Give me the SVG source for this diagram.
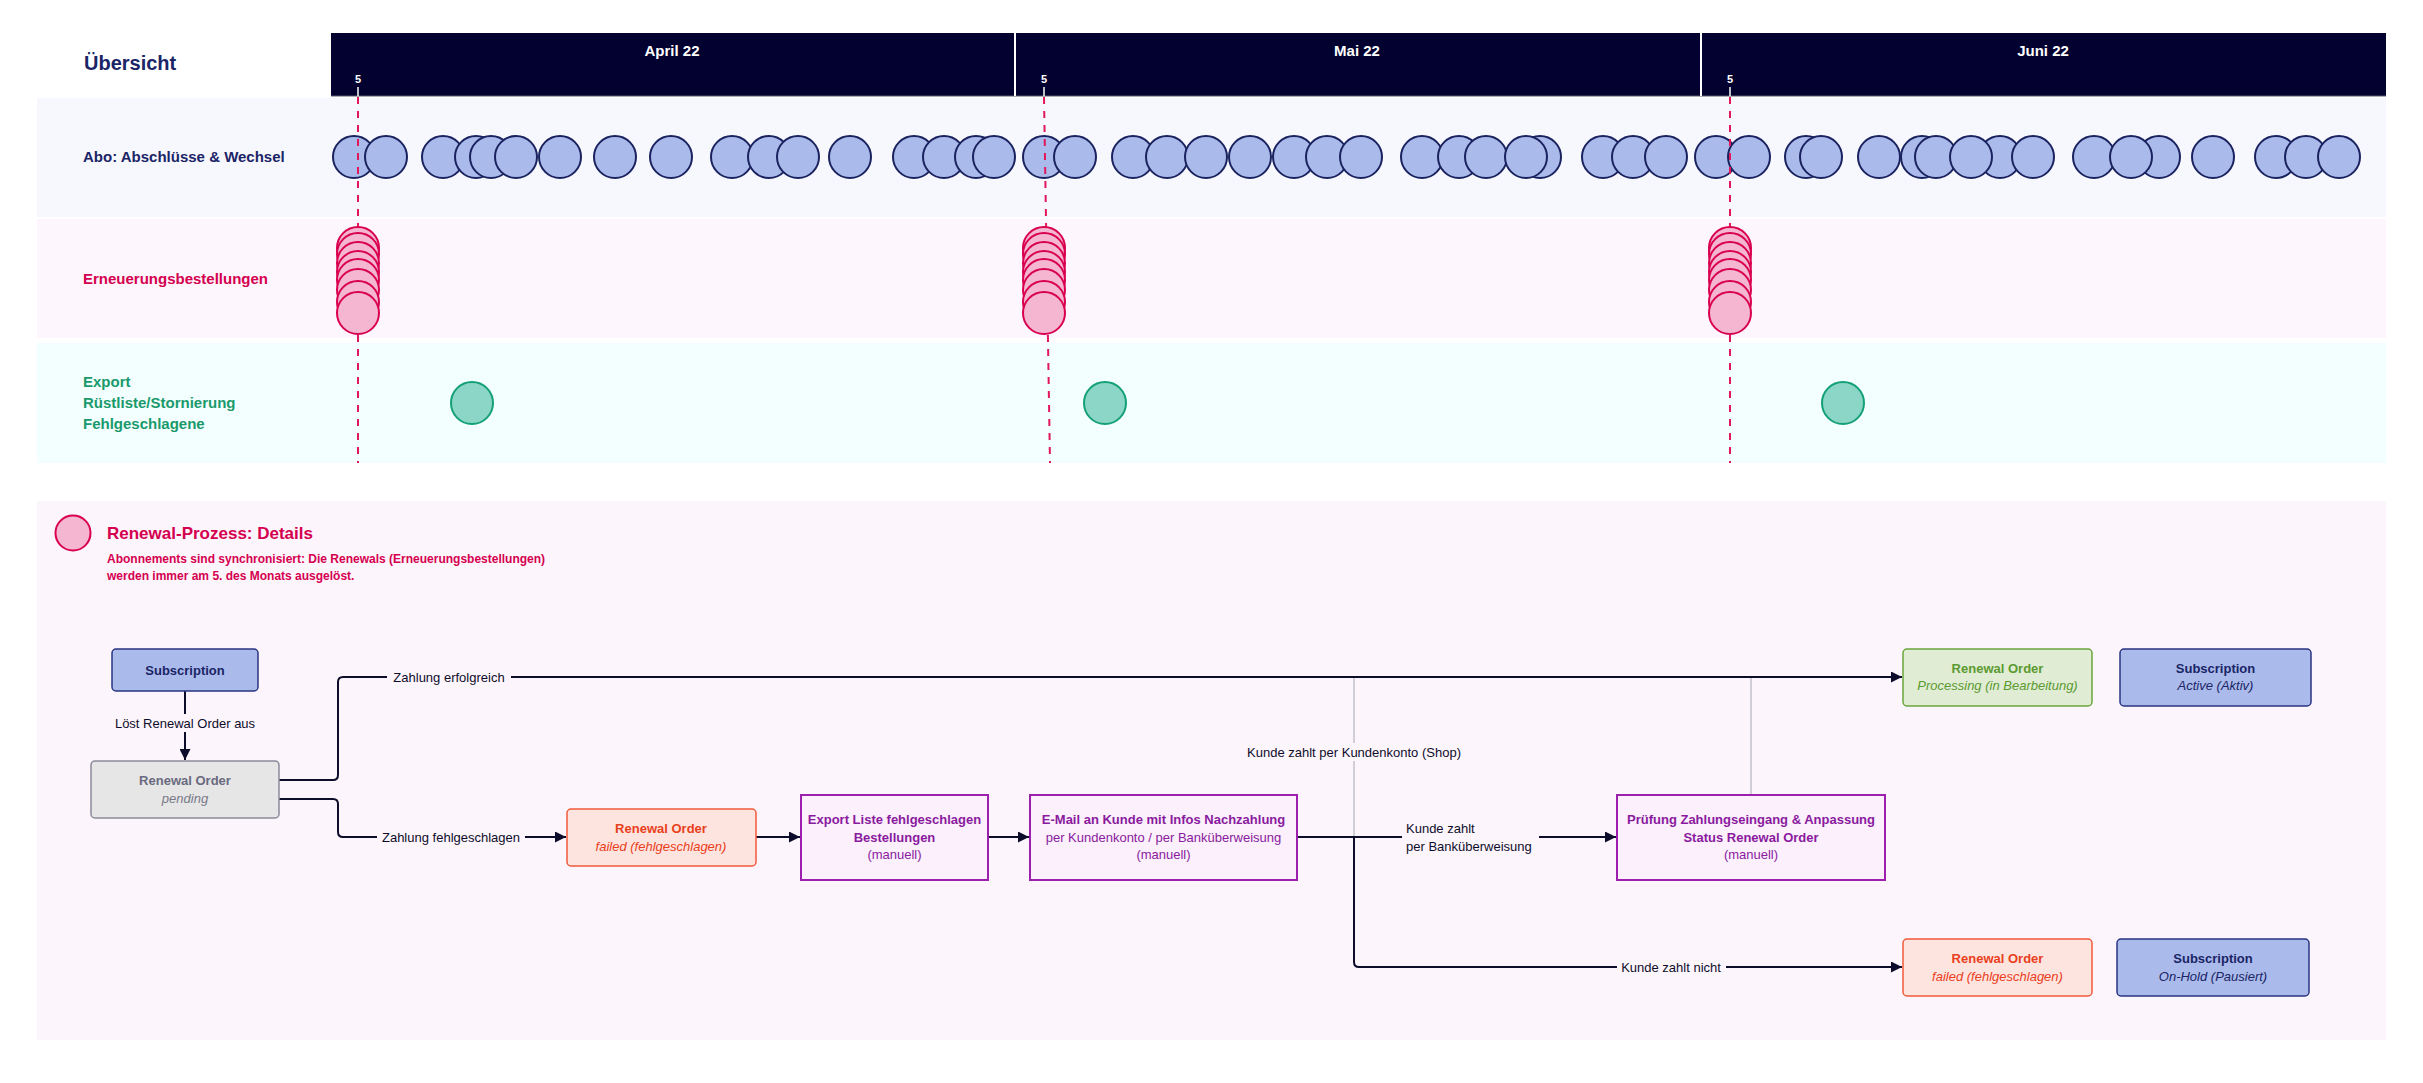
<svg xmlns="http://www.w3.org/2000/svg" width="2423" height="1083" viewBox="0 0 2423 1083">
<defs>
<style>
text{font-family:"Liberation Sans",Arial,sans-serif}
.b{font-weight:bold}
.i{font-style:italic}
.abo{fill:#aabbeb;stroke:#1a225f;stroke-width:2}
.ren{fill:#f4b6d1;stroke:#d9004f;stroke-width:2}
.exp{fill:#8bd6c6;stroke:#14a077;stroke-width:2}
.dash{stroke:#e0185a;stroke-width:2;stroke-dasharray:7 7;fill:none}
.hdr{fill:#ffffff;font-weight:bold;font-size:15px;text-anchor:middle}
.conn{fill:none;stroke:#0d0d2b;stroke-width:2}
.gray{fill:none;stroke:#b4b4be;stroke-width:1.2}
.lbl{font-size:13px;fill:#0d0d2b}
.lbg{fill:#fdf5fc}
.c{text-anchor:middle}
.t13{font-size:13px}
.navy{fill:#1b2466}
.purple{fill:#8a1a9e}
</style>
<marker id="ah" viewBox="0 0 10 10" refX="10" refY="5" markerWidth="11" markerHeight="11" markerUnits="userSpaceOnUse" orient="auto">
<path d="M0 0 L10 5 L0 10 Z" fill="#0d0d2b"/>
</marker>
</defs>
<rect width="2423" height="1083" fill="#ffffff"/>

<g id="header">
<rect x="331" y="33" width="2055" height="63" fill="#03012f"/>
<line x1="331" y1="96" x2="2386" y2="96" stroke="#5a5a70" stroke-width="1"/>
<line x1="1015" y1="33" x2="1015" y2="96" stroke="#ffffff" stroke-width="2"/>
<line x1="1701" y1="33" x2="1701" y2="96" stroke="#ffffff" stroke-width="2"/>
<text class="hdr" x="672" y="56">April 22</text>
<text class="hdr" x="1357" y="56">Mai 22</text>
<text class="hdr" x="2043" y="56">Juni 22</text>
<text x="358" y="83" fill="#fff" font-size="11" font-weight="bold" text-anchor="middle">5</text>
<text x="1044" y="83" fill="#fff" font-size="11" font-weight="bold" text-anchor="middle">5</text>
<text x="1730" y="83" fill="#fff" font-size="11" font-weight="bold" text-anchor="middle">5</text>
<line x1="358" y1="87" x2="358" y2="96" stroke="#fff" stroke-width="1.5"/>
<line x1="1044" y1="87" x2="1044" y2="96" stroke="#fff" stroke-width="1.5"/>
<line x1="1730" y1="87" x2="1730" y2="96" stroke="#fff" stroke-width="1.5"/>
<text x="84" y="70" class="b navy" font-size="20">Übersicht</text>
</g>

<g id="lanes">
<rect x="37" y="98" width="2349" height="119" fill="#f7f8fe"/>
<rect x="37" y="219" width="2349" height="119" fill="#fdf6fc"/>
<rect x="37" y="343" width="2349" height="120" fill="#f3fefe"/>
<text x="83" y="162" class="b navy" font-size="15">Abo: Abschlüsse &amp; Wechsel</text>
<text x="83" y="284" class="b" font-size="15" fill="#d4004f">Erneuerungsbestellungen</text>
<text class="b" font-size="15" fill="#1a9a6c"><tspan x="83" y="387">Export</tspan><tspan x="83" y="408">Rüstliste/Stornierung</tspan><tspan x="83" y="429">Fehlgeschlagene</tspan></text>
</g>

<g id="abo-circles">
<circle class="abo" cx="354" cy="157" r="21"/><circle class="abo" cx="386" cy="157" r="21"/>
<circle class="abo" cx="443" cy="157" r="21"/><circle class="abo" cx="476" cy="157" r="21"/>
<circle class="abo" cx="491" cy="157" r="21"/><circle class="abo" cx="516" cy="157" r="21"/>
<circle class="abo" cx="560" cy="157" r="21"/><circle class="abo" cx="615" cy="157" r="21"/>
<circle class="abo" cx="671" cy="157" r="21"/><circle class="abo" cx="732" cy="157" r="21"/>
<circle class="abo" cx="769" cy="157" r="21"/><circle class="abo" cx="798" cy="157" r="21"/>
<circle class="abo" cx="850" cy="157" r="21"/><circle class="abo" cx="914" cy="157" r="21"/>
<circle class="abo" cx="944" cy="157" r="21"/><circle class="abo" cx="976" cy="157" r="21"/>
<circle class="abo" cx="994" cy="157" r="21"/><circle class="abo" cx="1044" cy="157" r="21"/>
<circle class="abo" cx="1075" cy="157" r="21"/><circle class="abo" cx="1133" cy="157" r="21"/>
<circle class="abo" cx="1167" cy="157" r="21"/><circle class="abo" cx="1206" cy="157" r="21"/>
<circle class="abo" cx="1250" cy="157" r="21"/><circle class="abo" cx="1294" cy="157" r="21"/>
<circle class="abo" cx="1327" cy="157" r="21"/><circle class="abo" cx="1361" cy="157" r="21"/>
<circle class="abo" cx="1422" cy="157" r="21"/><circle class="abo" cx="1459" cy="157" r="21"/>
<circle class="abo" cx="1486" cy="157" r="21"/><circle class="abo" cx="1540" cy="157" r="21"/>
<circle class="abo" cx="1526" cy="157" r="21"/><circle class="abo" cx="1603" cy="157" r="21"/>
<circle class="abo" cx="1633" cy="157" r="21"/><circle class="abo" cx="1666" cy="157" r="21"/>
<circle class="abo" cx="1716" cy="157" r="21"/><circle class="abo" cx="1749" cy="157" r="21"/>
<circle class="abo" cx="1806" cy="157" r="21"/><circle class="abo" cx="1821" cy="157" r="21"/>
<circle class="abo" cx="1879" cy="157" r="21"/><circle class="abo" cx="1922" cy="157" r="21"/>
<circle class="abo" cx="1936" cy="157" r="21"/><circle class="abo" cx="2000" cy="157" r="21"/>
<circle class="abo" cx="1971" cy="157" r="21"/><circle class="abo" cx="2033" cy="157" r="21"/>
<circle class="abo" cx="2094" cy="157" r="21"/><circle class="abo" cx="2159" cy="157" r="21"/>
<circle class="abo" cx="2131" cy="157" r="21"/><circle class="abo" cx="2213" cy="157" r="21"/>
<circle class="abo" cx="2276" cy="157" r="21"/><circle class="abo" cx="2306" cy="157" r="21"/>
<circle class="abo" cx="2339" cy="157" r="21"/>
</g>

<g id="day5-lines">
<line class="dash" x1="358" y1="97" x2="358" y2="463"/>
<line class="dash" x1="1044" y1="97" x2="1050" y2="463"/>
<line class="dash" x1="1730" y1="97" x2="1730" y2="463"/>
</g>

<g id="renewal-stacks">
<circle class="ren" cx="358" cy="248" r="21"/><circle class="ren" cx="358" cy="254" r="21"/><circle class="ren" cx="358" cy="263" r="21"/><circle class="ren" cx="358" cy="272" r="21"/><circle class="ren" cx="358" cy="280" r="21"/><circle class="ren" cx="358" cy="290" r="21"/><circle class="ren" cx="358" cy="302" r="21"/><circle class="ren" cx="358" cy="313" r="21"/>
<circle class="ren" cx="1044" cy="248" r="21"/><circle class="ren" cx="1044" cy="254" r="21"/><circle class="ren" cx="1044" cy="263" r="21"/><circle class="ren" cx="1044" cy="272" r="21"/><circle class="ren" cx="1044" cy="280" r="21"/><circle class="ren" cx="1044" cy="290" r="21"/><circle class="ren" cx="1044" cy="302" r="21"/><circle class="ren" cx="1044" cy="313" r="21"/>
<circle class="ren" cx="1730" cy="248" r="21"/><circle class="ren" cx="1730" cy="254" r="21"/><circle class="ren" cx="1730" cy="263" r="21"/><circle class="ren" cx="1730" cy="272" r="21"/><circle class="ren" cx="1730" cy="280" r="21"/><circle class="ren" cx="1730" cy="290" r="21"/><circle class="ren" cx="1730" cy="302" r="21"/><circle class="ren" cx="1730" cy="313" r="21"/>
</g>

<g id="export-circles">
<circle class="exp" cx="472" cy="403" r="21"/>
<circle class="exp" cx="1105" cy="403" r="21"/>
<circle class="exp" cx="1843" cy="403" r="21"/>
</g>

<g id="details-panel">
<rect x="37" y="501" width="2349" height="539" fill="#fdf5fc"/>
<circle class="ren" cx="73" cy="533" r="17.5"/>
<text x="107" y="539" class="b" font-size="17" fill="#d4004f">Renewal-Prozess: Details</text>
<text class="b" font-size="12" fill="#d4004f"><tspan x="107" y="563">Abonnements sind synchronisiert: Die Renewals (Erneuerungsbestellungen)</tspan><tspan x="107" y="580">werden immer am 5. des Monats ausgelöst.</tspan></text>
</g>

<g id="connectors">
<path class="conn" d="M185 691 V760" marker-end="url(#ah)"/>
<path class="conn" d="M279 780 H333 Q338 780 338 775 V682 Q338 677 343 677 H1902" marker-end="url(#ah)"/>
<path class="conn" d="M279 799 H333 Q338 799 338 804 V832 Q338 837 343 837 H566" marker-end="url(#ah)"/>
<path class="conn" d="M756 837 H800" marker-end="url(#ah)"/>
<path class="conn" d="M988 837 H1029" marker-end="url(#ah)"/>
<path class="conn" d="M1297 837 H1616" marker-end="url(#ah)"/>
<path class="conn" d="M1354 837 V962 Q1354 967 1359 967 H1902" marker-end="url(#ah)"/>
<path class="gray" d="M1354 836 V678"/>
<path class="gray" d="M1751 795 V678"/>
<rect class="lbg" x="112" y="714" width="146" height="18"/>
<text class="lbl c" x="185" y="728">Löst Renewal Order aus</text>
<rect class="lbg" x="387" y="668" width="124" height="18"/>
<text class="lbl c" x="449" y="682">Zahlung erfolgreich</text>
<rect class="lbg" x="377" y="828" width="148" height="18"/>
<text class="lbl c" x="451" y="842">Zahlung fehlgeschlagen</text>
<rect class="lbg" x="1244" y="743" width="220" height="18"/>
<text class="lbl c" x="1354" y="757">Kunde zahlt per Kundenkonto (Shop)</text>
<rect class="lbg" x="1402" y="818" width="137" height="38"/>
<text class="lbl"><tspan x="1406" y="833">Kunde zahlt</tspan><tspan x="1406" y="851">per Banküberweisung</tspan></text>
<rect class="lbg" x="1617" y="958" width="109" height="18"/>
<text class="lbl c" x="1671" y="972">Kunde zahlt nicht</text>
</g>

<g id="node-subscription">
<rect x="112" y="649" width="146" height="42" rx="4" fill="#aabbeb" stroke="#2a3580" stroke-width="1.5"/>
<text class="b c t13 navy" x="185" y="675">Subscription</text>
</g>
<g id="node-pending">
<rect x="91" y="761" width="188" height="57" rx="4" fill="#e6e6e6" stroke="#8a8a98" stroke-width="1.5"/>
<text class="b c t13" x="185" y="785" fill="#6a6a80">Renewal Order</text>
<text class="i c t13" x="185" y="803" fill="#7a7a8a">pending</text>
</g>
<g id="node-failed1">
<rect x="567" y="809" width="189" height="57" rx="4" fill="#fee4df" stroke="#f05a3a" stroke-width="1.5"/>
<text class="b c t13" x="661" y="833" fill="#e8401c">Renewal Order</text>
<text class="i c t13" x="661" y="851" fill="#e8401c">failed (fehlgeschlagen)</text>
</g>
<g id="node-export">
<rect x="801" y="795" width="187" height="85" fill="#fbf0fc" stroke="#9c1fae" stroke-width="2"/>
<text class="b c t13 purple" x="894.5" y="824">Export Liste fehlgeschlagen</text>
<text class="b c t13 purple" x="894.5" y="842">Bestellungen</text>
<text class="c t13 purple" x="894.5" y="859">(manuell)</text>
</g>
<g id="node-email">
<rect x="1030" y="795" width="267" height="85" fill="#fbf0fc" stroke="#9c1fae" stroke-width="2"/>
<text class="b c t13 purple" x="1163.5" y="824">E-Mail an Kunde mit Infos Nachzahlung</text>
<text class="c t13 purple" x="1163.5" y="842">per Kundenkonto / per Banküberweisung</text>
<text class="c t13 purple" x="1163.5" y="859">(manuell)</text>
</g>
<g id="node-pruefung">
<rect x="1617" y="795" width="268" height="85" fill="#fbf0fc" stroke="#9c1fae" stroke-width="2"/>
<text class="b c t13 purple" x="1751" y="824">Prüfung Zahlungseingang &amp; Anpassung</text>
<text class="b c t13 purple" x="1751" y="842">Status Renewal Order</text>
<text class="c t13 purple" x="1751" y="859">(manuell)</text>
</g>
<g id="node-processing">
<rect x="1903" y="649" width="189" height="57" rx="4" fill="#e1ecd5" stroke="#6aa53a" stroke-width="1.5"/>
<text class="b c t13" x="1997.5" y="673" fill="#5a9a30">Renewal Order</text>
<text class="i c t13" x="1997.5" y="690" fill="#5a9a30">Processing (in Bearbeitung)</text>
</g>
<g id="node-sub-active">
<rect x="2120" y="649" width="191" height="57" rx="4" fill="#aabbeb" stroke="#2a3580" stroke-width="1.5"/>
<text class="b c t13 navy" x="2215.5" y="673">Subscription</text>
<text class="i c t13 navy" x="2215.5" y="690">Active (Aktiv)</text>
</g>
<g id="node-failed2">
<rect x="1903" y="939" width="189" height="57" rx="4" fill="#fee4df" stroke="#f05a3a" stroke-width="1.5"/>
<text class="b c t13" x="1997.5" y="963" fill="#e8401c">Renewal Order</text>
<text class="i c t13" x="1997.5" y="981" fill="#e8401c">failed (fehlgeschlagen)</text>
</g>
<g id="node-sub-onhold">
<rect x="2117" y="939" width="192" height="57" rx="4" fill="#aabbeb" stroke="#2a3580" stroke-width="1.5"/>
<text class="b c t13 navy" x="2213" y="963">Subscription</text>
<text class="i c t13 navy" x="2213" y="981">On-Hold (Pausiert)</text>
</g>
</svg>
